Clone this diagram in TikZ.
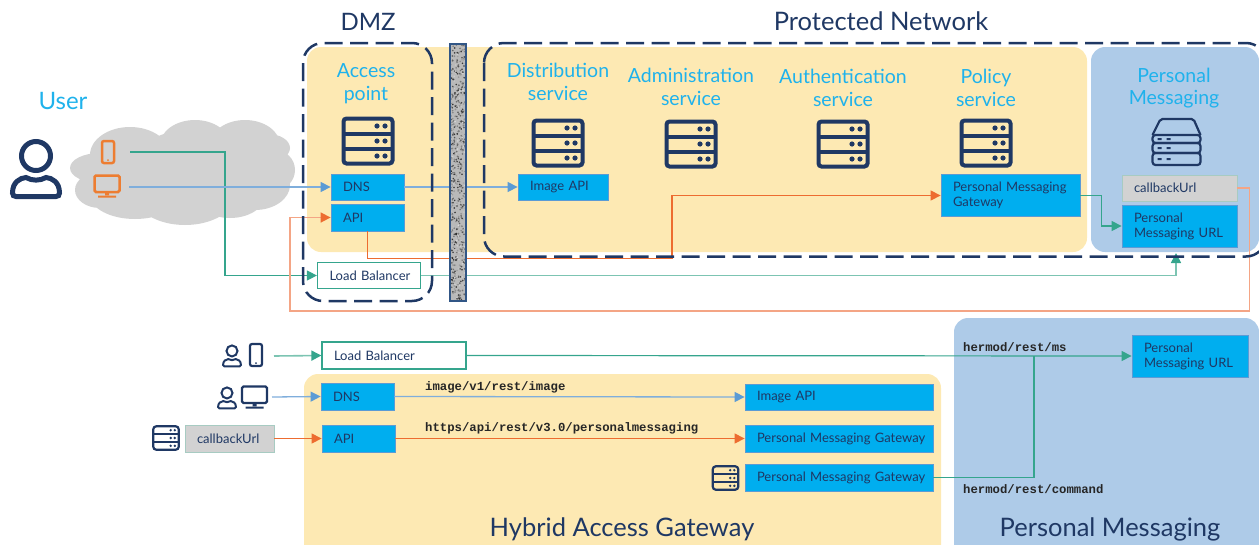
\documentclass[tikz,border=0pt]{standalone}
\usepackage{fontspec}
\setmainfont{Lato}
\setmonofont{Liberation Mono}
\usetikzlibrary{positioning, arrows.meta}

\definecolor{navy}{HTML}{1F3864}
\definecolor{skytext}{HTML}{1FB2EC}
\definecolor{boxblue}{HTML}{00AEEF}
\definecolor{panelyellow}{HTML}{FDE9B3}
\definecolor{panelblue}{HTML}{AECBE8}
\definecolor{cloudgrey}{HTML}{D2D2D2}
\definecolor{tealline}{HTML}{35A58D}
\definecolor{paleteal}{HTML}{7CC4B2}
\definecolor{blueline}{HTML}{7FAEDC}
\definecolor{bluetip}{HTML}{5B9BD5}
\definecolor{orangeline}{HTML}{ED6C30}
\definecolor{salmonline}{HTML}{F4A585}
\definecolor{iconorange}{HTML}{ED7D31}

\tikzset{
    icon line/.style={line width=4},
    bluebox/.style n args={2}{fill=boxblue, draw=bluetip, line width=0.8, text=navy, align=left, inner xsep=12, inner ysep=0,
        text width=#1-24, minimum height=#2, font=\fontsize{13}{15}\selectfont},
    greybox/.style n args={2}{bluebox={#1}{#2}, fill=cloudgrey, draw=paleteal!50!cloudgrey},
    lbbox/.style n args={2}{bluebox={#1}{#2}, fill=white, draw=tealline, line width=1.2},
    service/.style={text=skytext, align=center, font=\fontsize{19.5}{22.5}\selectfont},
    title/.style={text=navy, font=\fontsize{25.5}{28}\selectfont},
    urlpath/.style={text=black!85, font=\fontsize{12.3}{15}\ttfamily\bfseries, inner sep=0},
    fence/.style={draw=navy, line width=2.5, dash pattern=on 18 off 7.5, rounded corners=20},
    greenline/.style={draw=tealline, line width=1.2, -{Triangle[length=10, width=10]}},
    paleline/.style={draw=paleteal, line width=1.6, -{Triangle[length=10, width=10, color=tealline]}},
    blueflow/.style={draw=blueline, line width=1.3, -{Triangle[length=10, width=10, color=bluetip]}},
    orangeflow/.style={draw=orangeline, line width=1.2, -{Triangle[length=10, width=10]}},
    salmonflow/.style={draw=salmonline, line width=1.6, -{Triangle[length=10, width=10, color=orangeline]}},
    pics/rackicon/.style={code={
        \draw[icon line, rounded corners=3] (-24.5,-22.5) rectangle (24.5,22.5);
        \draw[icon line] (-24.5,-7.5) -- (24.5,-7.5) (-24.5,7.5) -- (24.5,7.5);
        \foreach \rowy in {-15,0,15} {
            \fill (9,\rowy) circle (2.6) (17,\rowy) circle (2.6);
        }
    }},
    pics/shelficon/.style={code={
        \draw[line width=2.2, rounded corners=2] (-24,-5) -- (-16,-21) -- (17,-21) -- (24,-5);
        \draw[line width=2.2, rounded corners=3] (-24,-5) rectangle (24,3);
        \draw[line width=2.2, rounded corners=3] (-24,3) rectangle (24,13);
        \draw[line width=2.2, rounded corners=3] (-24,13) rectangle (24,25);
        \foreach \rowy in {-2,7,18} {
            \fill (-19,\rowy) rectangle ++(4,2) (-10,\rowy) rectangle ++(4,2);
        }
    }},
    pics/usericon/.style={code={
        \draw[icon line] (0,-12) circle (14.5);
        \draw[icon line] (-23.5,25) .. controls (-23.5,14) and (-16,10) .. (-10,9.5)
            .. controls (-4,13) and (4,13) .. (10,9.5) .. controls (16,10) and (23.5,14) .. (23.5,25)
            .. controls (23.5,27.5) and (22,28.5) .. (20,28.5) -- (-20,28.5)
            .. controls (-22,28.5) and (-23.5,27.5) .. (-23.5,25) -- cycle;
    }},
    pics/phoneicon/.style={code={
        \draw[icon line, rounded corners=2] (-6,-11) rectangle (6,11);
        \fill (0,8) circle (1);
    }},
    pics/monitoricon/.style={code={
        \draw[icon line, rounded corners=1.5] (-12.5,-10.5) rectangle (12.5,6);
        \fill (-2,6) rectangle (2,9) (-9,9.5) rectangle (9,11.5);
    }},
}

\begin{document}
\begin{tikzpicture}[x=1pt, y=-1pt]
    \useasboundingbox (0,0) rectangle (1259,544);
    \clip (0,0) rectangle (1259,544);

    % Panels
    \fill[panelyellow, rounded corners=14] (307,47) rectangle (1087,252);
    \fill[panelblue, rounded corners=14] (1091,47) rectangle (1259,252);
    \fill[panelblue, rounded corners=14] (954,318) rectangle (1259,560);
    \fill[panelyellow, rounded corners=14] (304,374) rectangle (941,560);

    % Cloud
    \fill[cloudgrey] (100,168) ellipse (30 and 15) (100,190) ellipse (25 and 18)
        (130,155) ellipse (40 and 28) (195,145) ellipse (35 and 25) (245,145) ellipse (35 and 25)
        (268,148) ellipse (22 and 14) (275,170) ellipse (20 and 20) (255,185) ellipse (35 and 25)
        (185,195) ellipse (50 and 30) (135,195) ellipse (45 and 24) (230,195) ellipse (35 and 23)
        (190,170) ellipse (60 and 40);

    % Titles
    \node[title, font=\fontsize{24}{28}\selectfont] (dmz) at (368,22) {DMZ};
    \node[title] (protected) at (881,21.5) {Protected Network};
    \node[title] (hybrid) at (622,529) {Hybrid Access Gateway};
    \node[title] (messaging) at (1110,529) {Personal Messaging};

    % Services
    \node[service, font=\fontsize{24}{26}\selectfont] (user) at (63,101) {User};
    \node[service] (access) at (366,83.5) {Access\\point};
    \node[service] (distribution) at (558,82) {Distribution\\service};
    \node[service] (administration) at (691,87) {Administration\\service};
    \node[service] (authentication) at (843,88) {Authentication\\service};
    \node[service] (policy) at (986,88) {Policy\\service};
    \node[service] (personal) at (1174,88) {Personal\\Messaging};

    % Icons
    \pic[color=navy, icon line/.style={line width=5}] at (36,168) {usericon};
    \pic[color=iconorange, icon line/.style={line width=2.5}] at (108,152) {phoneicon};
    \pic[color=iconorange, icon line/.style={line width=2.5}] at (107,186) {monitoricon};
    \pic[color=navy] at (368,141) {rackicon};
    \pic[color=navy] at (558,143) {rackicon};
    \pic[color=navy] at (691,144) {rackicon};
    \pic[color=navy] at (843,144) {rackicon};
    \pic[color=navy] at (986,143) {rackicon};
    \pic[color=navy] at (1176.5,140) {shelficon};
    \pic[color=navy, scale=0.38, icon line/.style={line width=2}] at (232,355.5) {usericon};
    \pic[color=navy, icon line/.style={line width=2.2}] at (256,355) {phoneicon};
    \pic[color=navy, scale=0.38, icon line/.style={line width=2}] at (227,397.5) {usericon};
    \pic[color=navy, icon line/.style={line width=2.2}] at (254.5,397) {monitoricon};
    \pic[color=navy, scale=0.52, icon line/.style={line width=2.2}] at (166,438) {rackicon};
    \pic[color=navy, scale=0.52, icon line/.style={line width=2.2}] at (725.5,478) {rackicon};

    % Upper boxes
    \node[bluebox={73}{26}] (dns top) at (367.5,187) {DNS};
    \node[bluebox={73}{27}] (api top) at (367.5,217.5) {API};
    \node[lbbox={103}{26.5}] (balancer top) at (369,275.5) {\mbox{Load Balancer}};
    \node[bluebox={90}{26}] (image top) at (563,187) {Image API};
    \node[bluebox={139}{42}] (gateway top) at (1010.5,195.5) {Personal Messaging\\Gateway};
    \node[greybox={115}{26}] (callback top) at (1179.5,188) {callbackUrl};
    \node[bluebox={115}{42}] (url top) at (1179.5,226) {Personal\\Messaging URL};

    % Lower boxes
    \node[lbbox={144}{27}] (balancer low) at (394,355.5) {Load Balancer};
    \node[bluebox={73}{27}] (dns low) at (357.5,396.5) {DNS};
    \node[bluebox={73}{27}] (api low) at (358.5,438.5) {API};
    \node[greybox={89}{27}] (callback low) at (229.5,438.5) {callbackUrl};
    \node[bluebox={188}{26}] (image low) at (839,397) {Image API};
    \node[bluebox={188}{27}] (gateway low) at (839,438.5) {\mbox{Personal Messaging Gateway}};
    \node[bluebox={188}{27}] (command low) at (839,477.5) {\mbox{Personal Messaging Gateway}};
    \node[bluebox={116}{42}] (url low) at (1190,356) {Personal\\Messaging URL};

    % Free ends
    \coordinate (phone top) at (130,152);
    \coordinate (monitor top) at (129,187);
    \coordinate (url bottom) at (1176,253);
    \coordinate (phone low) at (274,356);
    \coordinate (monitor low) at (272,397);

    % Edges
    % phone to load balancer
    \draw[greenline] (phone top) -- ++(95,0) |- (balancer top.west);

    % monitor to dns
    \draw[blueflow] (monitor top) -- (dns top.west);

    % dns to image api
    \draw[blueflow] (dns top.east) -- (image top.west);

    % api to gateway
    \draw[orangeflow] (api top.south) |- (672,258.5) |- (gateway top.west);

    % gateway to url
    \draw[greenline] (gateway top.east) -- ++(21,0) |- (url top.west);

    % load balancer to url
    \draw[paleline] (balancer top.east) -| (url bottom);

    % callback to api
    \draw[salmonflow] (callback top.east) -- ++(12,0) |- (290,311) |- (api top.west);

    % lower phone to load balancer
    \draw[paleline] (phone low) -- (balancer low.west);

    % lower load balancer to url
    \draw[greenline] (balancer low.east) -- (url low.west);

    % lower monitor to dns
    \draw[blueflow] (monitor low) -- (dns low.west);

    % lower dns to image api
    \draw[blueflow] (dns low.east) -- (image low.west);

    % lower callback to api
    \draw[orangeflow] (callback low.east) -- (api low.west);

    % lower api to gateway
    \draw[orangeflow] (api low.east) -- (gateway low.west);

    % lower gateway joins the url line
    \draw[draw=tealline, line width=1.2] (command low.east) -| (1034,356);

    % Fences
    \draw[fence] (303,43) rectangle (432,301);
    \draw[fence] (484,43) rectangle (1266,256.5);

    % Wall
    \fill[gray!55] (450,44) rectangle (466,301);
    \pgfmathsetseed{7}
    \foreach \i in {1,...,650} {
        \pgfmathsetmacro{\wallx}{450.5+15*rnd}
        \pgfmathsetmacro{\wally}{44.5+256*rnd}
        \pgfmathsetmacro{\wallc}{int(15+70*rnd)}
        \fill[black!\wallc!white] (\wallx,\wally) circle (0.9);
    }
    \draw[draw=navy!70!bluetip, line width=1.2] (450,44) rectangle (466,301);

    % Path labels
    \node[urlpath, anchor=west] (image path) at (425,387) {image/v1/rest/image};
    \node[urlpath, anchor=west] (api path) at (425,428) {https/api/rest/v3.0/personalmessaging};
    \node[urlpath, anchor=west] (ms path) at (963,347.5) {hermod/rest/ms};
    \node[urlpath, anchor=west] (command path) at (963,489.5) {hermod/rest/command};
\end{tikzpicture}
\end{document}
